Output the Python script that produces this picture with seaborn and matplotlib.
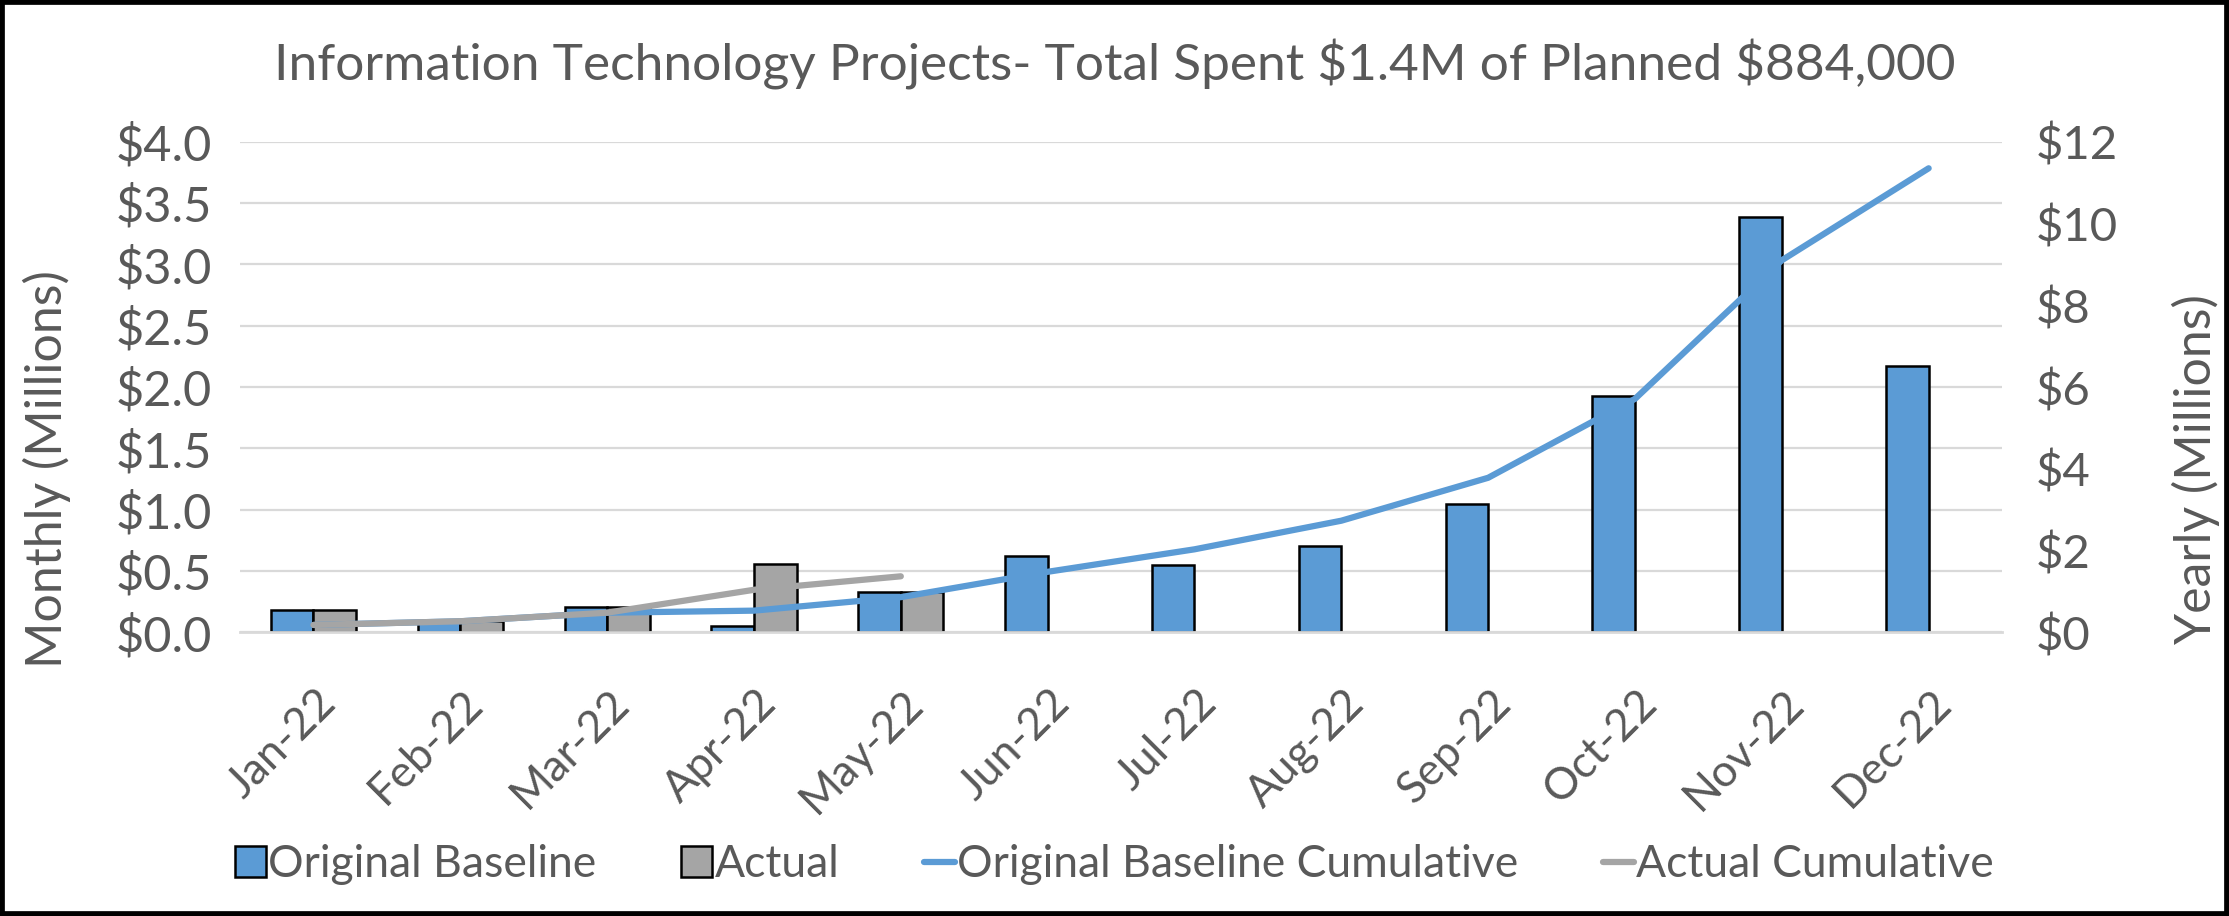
import numpy as np
import pandas as pd
import seaborn as sns
import matplotlib.pyplot as plt
import matplotlib.transforms as mtrans
from matplotlib.patches import Patch, Rectangle
from matplotlib.lines import Line2D
from matplotlib.ticker import FuncFormatter, MultipleLocator

# Donnees (millions de $)
months = ["Jan-22", "Feb-22", "Mar-22", "Apr-22", "May-22", "Jun-22",
          "Jul-22", "Aug-22", "Sep-22", "Oct-22", "Nov-22", "Dec-22"]
baseline = [0.18, 0.09, 0.21, 0.05, 0.33, 0.62, 0.55, 0.70, 1.05, 1.93, 3.39, 2.17]
actual = [0.18, 0.09, 0.21, 0.56, 0.33, None, None, None, None, None, None, None]
baseline_cum = [0.18, 0.27, 0.48, 0.53, 0.86, 1.48, 2.03, 2.73, 3.78, 5.71, 9.10, 11.35]
actual_cum = [0.18, 0.27, 0.48, 1.04, 1.37]

BLUE = "#5B9BD5"
GRAY = "#A5A5A5"
TXT = "#595959"

sns.set_theme(style="white")
plt.rcParams["font.family"] = ["Lato", "DejaVu Sans"]
plt.rcParams["text.color"] = TXT
plt.rcParams["text.parse_math"] = False

df = pd.DataFrame({
    "month": months * 2,
    "series": ["Original Baseline"] * 12 + ["Actual"] * 12,
    "value": baseline + actual,
})

fig = plt.figure(figsize=(22.29, 9.16), dpi=100)
ax = fig.add_axes([0.1077, 0.3097, 0.7905, 0.5356])

sns.barplot(data=df, x="month", y="value", hue="series",
            hue_order=["Original Baseline", "Actual"], palette=[BLUE, GRAY],
            width=0.58, gap=0, saturation=1, edgecolor="black", linewidth=1.8,
            legend=False, ax=ax)

ax.set_ylim(0, 4.0)
ax.set_xlim(-0.5, 11.5)
ax.yaxis.set_major_locator(MultipleLocator(0.5))
ax.yaxis.set_major_formatter(FuncFormatter(lambda v, p: f"${v:.1f}"))
ax.grid(axis="y", color="#D9D9D9", linewidth=1.6)
ax.set_axisbelow(True)
for s in ["top", "right", "left"]:
    ax.spines[s].set_visible(False)
ax.spines["bottom"].set_color("#D9D9D9")
ax.spines["bottom"].set_linewidth(2)
ax.tick_params(axis="y", length=0, pad=20, labelsize=35, labelcolor=TXT)
ax.set_xticks(range(12))
ax.set_xticklabels(months, rotation=45, ha="right", va="center",
                   rotation_mode="anchor", fontsize=32, color=TXT)
ax.tick_params(axis="x", which="major", length=0, pad=42)
shift = mtrans.ScaledTranslation(0.16, -0.06, fig.dpi_scale_trans)
for lab in ax.get_xticklabels():
    lab.set_transform(lab.get_transform() + shift)
ax.set_xticks(np.arange(-0.5, 12, 1), minor=True)
ax.tick_params(axis="x", which="minor", length=16, width=1.5, color="#D9D9D9")
ax.set_xlabel("")
ax.set_ylabel("")

ax2 = ax.twinx()
sns.lineplot(x=np.arange(12), y=baseline_cum, color=BLUE, linewidth=4.5,
             solid_capstyle="round", ax=ax2)
sns.lineplot(x=np.arange(5), y=actual_cum, color=GRAY, linewidth=4.5,
             solid_capstyle="round", ax=ax2)
ax2.set_ylim(0, 12)
ax2.yaxis.set_major_locator(MultipleLocator(2))
ax2.yaxis.set_major_formatter(FuncFormatter(lambda v, p: f"${v:.0f}"))
ax2.tick_params(axis="y", length=0, pad=24, labelsize=34, labelcolor=TXT)
for s in ["top", "right", "left", "bottom"]:
    ax2.spines[s].set_visible(False)
ax2.grid(False)
ax2.set_ylabel("")

fig.text(47 / 2229, 1 - 469 / 916, "Monthly (Millions)", rotation=90,
         ha="center", va="center", fontsize=36, color=TXT)
fig.text(2196 / 2229, 1 - 469 / 916, "Yearly (Millions)", rotation=90,
         ha="center", va="center", fontsize=36, color=TXT)

fig.suptitle("Information Technology Projects- Total Spent $1.4M of Planned $884,000",
             fontsize=37, color=TXT, y=0.93, va="center")

handles = [
    Patch(facecolor=BLUE, edgecolor="black", linewidth=1.8),
    Patch(facecolor=GRAY, edgecolor="black", linewidth=1.8),
    Line2D([0], [0], color=BLUE, linewidth=4.5),
    Line2D([0], [0], color=GRAY, linewidth=4.5),
]
labels = ["Original Baseline", "Actual", "Original Baseline Cumulative", "Actual Cumulative"]
fig.legend(handles, labels, loc="center", bbox_to_anchor=(0.5, 0.056), ncol=4,
           frameon=False, fontsize=32, handlelength=0.7, handleheight=0.7,
           handletextpad=0.05, columnspacing=1.9, labelcolor=TXT)

fig.patches.append(Rectangle((0, 0), 1, 1, transform=fig.transFigure, fill=False,
                             edgecolor="black", linewidth=7))

fig.savefig("out.png", dpi=100)
